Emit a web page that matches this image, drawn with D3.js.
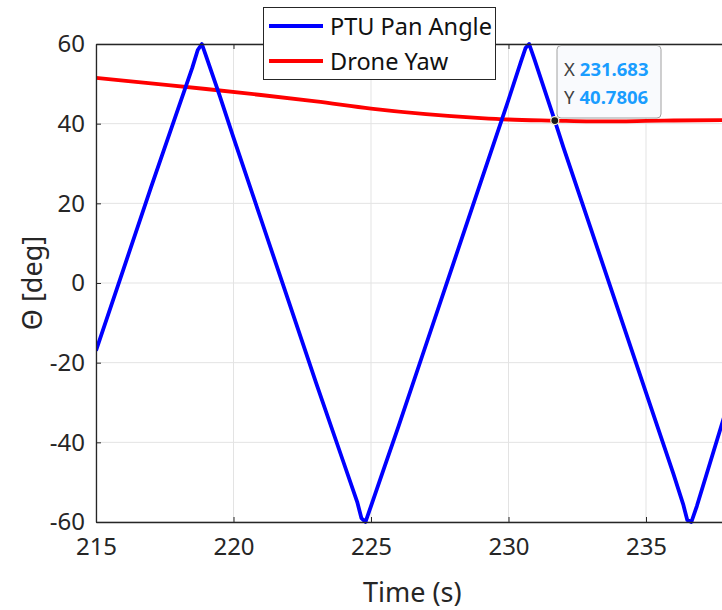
<!DOCTYPE html>
<html><head><meta charset="utf-8">
<script src="https://cdn.jsdelivr.net/npm/d3@7"></script>
<style>body{margin:0;background:#fff}svg{display:block;font-family:"Noto Sans","Open Sans",sans-serif}</style>
</head><body>
<svg id="c" width="722" height="610"></svg>
<script>
// ---- data ----
const xTicks = [215, 220, 225, 230, 235];
const yTicks = [-60, -40, -20, 0, 20, 40, 60];
const seriesNames = ["PTU Pan Angle", "Drone Yaw"];
const panTime = [215, 216, 217, 218, 218.5, 218.7, 218.85, 219.0, 219.5, 220, 221, 222, 223, 224, 224.5, 224.65, 224.8, 225.0, 225.5, 226, 227, 228, 229, 230, 230.45, 230.62, 230.75, 230.95, 231.683, 232, 233, 234, 235, 236, 236.35, 236.5, 236.65, 236.85, 238];
const panAngle = [-17, 3.5, 24, 44, 54, 58.5, 60, 57, 47, 36.5, 16, -4.5, -25, -45, -55, -59, -60, -56, -46, -36, -15.5, 5, 25.5, 46, 55.5, 59, 60, 56, 40.78, 34, 13.5, -7, -27.5, -48, -55.5, -59.5, -60, -56, -30];
const yawTime = [215, 217, 219, 221, 223, 225, 227, 229, 230, 231.683, 233, 234, 235, 236, 238];
const yawAngle = [51.5, 50.1, 48.7, 47.2, 45.6, 43.8, 42.4, 41.4, 41.05, 40.78, 40.6, 40.6, 40.7, 40.8, 40.9];
const tip = {x: 231.683, y: 40.7806};

// ---- layout ----
const svg = d3.select("#c");
const L = 96, T = 44, B = 522;
const x = d3.scaleLinear().domain([215, 238]).range([L, L + 23 * 27.5]);
const y = d3.scaleLinear().domain([-60, 60]).range([B, T]);
const R = x.range()[1];
const axisCol = "#262626";
const fmt = d => String(d);

// grid
svg.append("g").selectAll("line").data(xTicks).join("line")
  .attr("x1", d => x(d)).attr("x2", d => x(d)).attr("y1", T).attr("y2", B)
  .attr("stroke", "#e3e3e3").attr("stroke-width", 1);
svg.append("g").selectAll("line").data(yTicks).join("line")
  .attr("x1", L).attr("x2", R).attr("y1", d => y(d)).attr("y2", d => y(d))
  .attr("stroke", "#e3e3e3").attr("stroke-width", 1);

// clip
svg.append("clipPath").attr("id", "clip").append("rect")
  .attr("x", L).attr("y", T - 3).attr("width", R - L).attr("height", B - T + 6);

const g = svg.append("g").attr("clip-path", "url(#clip)");
g.append("path").datum(yawTime.map((t, i) => [t, yawAngle[i]]))
  .attr("d", d3.line().x(d => x(d[0])).y(d => y(d[1])).curve(d3.curveMonotoneX)).attr("fill", "none")
  .attr("stroke", "#ff0000").attr("stroke-width", 3.8);
g.append("path").datum(panTime.map((t, i) => [t, panAngle[i]]))
  .attr("d", d3.line().x(d => x(d[0])).y(d => y(d[1])).curve(d3.curveLinear)).attr("fill", "none")
  .attr("stroke", "#0000ff").attr("stroke-width", 3.8).attr("stroke-linejoin", "round");

// axes
const xb = svg.append("g").attr("transform", `translate(0,${B})`)
  .call(d3.axisBottom(x).tickValues(xTicks).tickFormat(fmt).tickSizeInner(-5).tickSizeOuter(0).tickPadding(16));
const xt = svg.append("g").attr("transform", `translate(0,${T})`)
  .call(d3.axisTop(x).tickValues(xTicks).tickSizeInner(-5).tickSizeOuter(0).tickFormat(""));
const yl = svg.append("g").attr("transform", `translate(${L},0)`)
  .call(d3.axisLeft(y).tickValues(yTicks).tickFormat(fmt).tickSizeInner(-5).tickSizeOuter(0).tickPadding(11));
[xb, xt, yl].forEach(a => {
  a.select(".domain").attr("stroke", axisCol).attr("stroke-width", 1.3);
  a.selectAll(".tick line").attr("stroke", axisCol).attr("stroke-width", 1);
  a.selectAll(".tick text").attr("fill", axisCol).attr("font-size", 24).attr("font-family", '"Noto Sans",sans-serif');
});
xb.selectAll(".tick text").attr("dy", "0.71em");

// labels
svg.append("text").attr("x", (L + R) / 2).attr("y", 602).attr("text-anchor", "middle")
  .attr("fill", axisCol).attr("font-size", 27).text("Time (s)");
svg.append("text").attr("transform", `translate(42,${(T + B) / 2}) rotate(-90)`).attr("text-anchor", "middle")
  .attr("fill", axisCol).attr("font-size", 27).text("Θ [deg]");

// legend
const lg = svg.append("g");
lg.append("rect").attr("x", 263.5).attr("y", 7.5).attr("width", 232).attr("height", 72)
  .attr("fill", "#fff").attr("stroke", axisCol).attr("stroke-width", 1);
const lcol = ["#0000ff", "#ff0000"];
seriesNames.forEach((n, i) => {
  const yy = 26 + i * 35;
  lg.append("line").attr("x1", 269).attr("x2", 323).attr("y1", yy).attr("y2", yy)
    .attr("stroke", lcol[i]).attr("stroke-width", 3.8);
  lg.append("text").attr("x", 330).attr("y", yy + 8.5).attr("font-size", 23.5).attr("fill", "#111").text(n);
});

// datatip
const tg = svg.append("g");
tg.append("rect").attr("x", 557).attr("y", 45.5).attr("width", 104).attr("height", 72.5).attr("rx", 4)
  .attr("fill", "#f9fafd").attr("stroke", "#a0a0a0").attr("stroke-width", 1);
[["X", d3.format(".3f")(tip.x)], ["Y", String(tip.y)]].forEach((r, i) => {
  const t = tg.append("text").attr("x", 564).attr("y", 76 + i * 28).attr("font-size", 18.5);
  t.append("tspan").attr("fill", "#404040").text(r[0]);
  t.append("tspan").attr("dx", 5).attr("fill", "#1a9dff").attr("font-weight", "bold").text(r[1]);
});
tg.append("circle").attr("cx", x(tip.x)).attr("cy", y(tip.y)).attr("r", 4)
  .attr("fill", "#1a1a1a").attr("stroke", "#f5f0d0").attr("stroke-width", 1.2);
</script>
</body></html>
